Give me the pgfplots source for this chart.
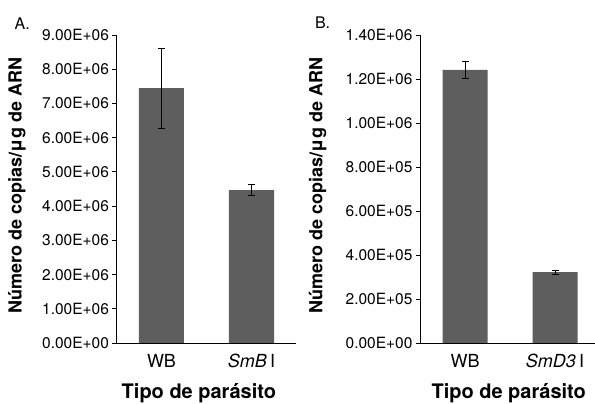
\documentclass[border=0pt]{standalone}
\usepackage{pgfplots}
\pgfplotsset{compat=1.18}
\usepackage{fontspec}
\setmainfont{TeX Gyre Heros}
\definecolor{barcol}{RGB}{94,94,94}

\pgfplotsset{
  panel/.style={
    scale only axis,
    height=308pt,
    anchor=south west,
    axis x line*=bottom,
    axis y line*=left,
    axis line style={-, black, line width=0.9pt},
    xmin=0.5,
    ymin=0,
    xtick={1,2},
    tick align=outside,
    major tick length=4pt,
    xtick style={draw=none},
    ytick style={black, line width=0.9pt},
    scaled y ticks=false,
    ticklabel style={font=\fontsize{15.5}{18}\selectfont},
    xticklabel style={font=\fontsize{18}{21}\selectfont, anchor=base, yshift=-21pt},
    ylabel style={font=\fontsize{18}{21}\selectfont\bfseries, rotate=0, anchor=center},
    xlabel style={font=\fontsize{20}{24}\selectfont\bfseries, anchor=base, yshift=-56pt},
    ylabel={Número de copias/μg de ARN},
    xlabel={Tipo de parásito},
    clip=false,
  },
  barplot/.style={
    ybar, bar width=45pt, bar shift=0pt,
    fill=barcol, draw=none,
    error bars/.cd, y dir=both, y explicit,
    error bar style={black, line width=0.8pt},
    error mark options={rotate=90, mark size=3.5pt, black, line width=0.8pt},
  },
}

\begin{document}
\begin{tikzpicture}
\useasboundingbox (0pt,0pt) rectangle (595pt,404pt);

% Panel A
\begin{axis}[panel,
  at={(116.5pt,61pt)},
  width=180pt,
  xmax=2.5,
  ymax=9e6,
  ytick={0,1e6,2e6,3e6,4e6,5e6,6e6,7e6,8e6,9e6},
  yticklabels={0.00E+00,1.00E+06,2.00E+06,3.00E+06,4.00E+06,5.00E+06,6.00E+06,7.00E+06,8.00E+06,9.00E+06},
  xticklabels={WB,{\textit{SmB}\hspace{0.18em}I}},
  ylabel style={at={(axis description cs:-0.553,0.511)}},
  xlabel style={at={(axis description cs:0.458,0)}},
]
\addplot[barplot] coordinates {
  (1,7.45e6) +- (0,1.17e6)
  (2,4.47e6) +- (0,0.15e6)
};
\node[anchor=base west, font=\fontsize{16}{19}\selectfont] at (rel axis cs:-0.585,1.0195) {A.};
\end{axis}

% Panel B
\begin{axis}[panel,
  at={(420pt,61pt)},
  width=175pt,
  xmax=2.444,
  ymax=1.4e6,
  ytick={0,2e5,4e5,6e5,8e5,10e5,12e5,14e5},
  yticklabels={0.00E+00,2.00E+05,4.00E+05,6.00E+05,8.00E+05,1.00E+06,1.20E+06,1.40E+06},
  xticklabels={WB,{\textit{SmD3}\hspace{0.18em}I}},
  ylabel style={at={(axis description cs:-0.584,0.511)}},
  xlabel style={at={(axis description cs:0.507,0)}},
]
\addplot[barplot] coordinates {
  (1,1.241e6) +- (0,0.039e6)
  (2,3.22e5) +- (0,0.09e5)
};
\node[anchor=base west, font=\fontsize{16}{19}\selectfont] at (rel axis cs:-0.62,1.0195) {B.};
\end{axis}
\end{tikzpicture}
\end{document}
